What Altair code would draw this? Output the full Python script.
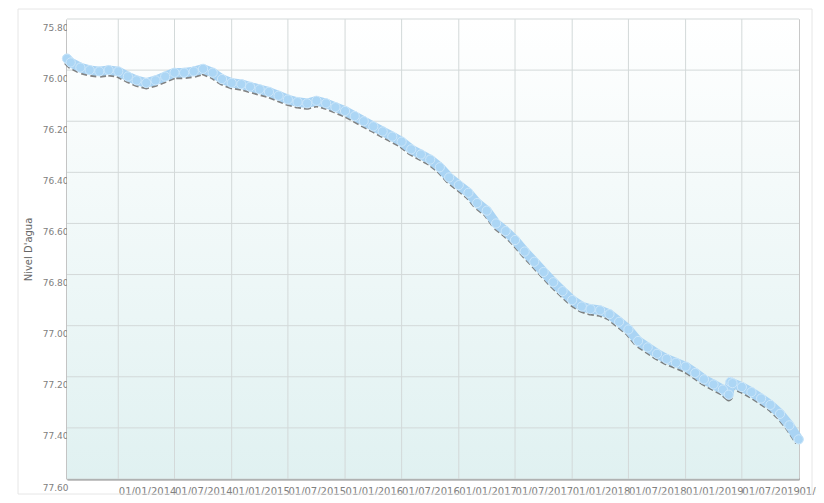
import altair as alt
import pandas as pd

# ---- data ----
dates = [
    "2013-07-20", "2013-08-01", "2013-09-01", "2013-10-01", "2013-11-01", "2013-12-01",
    "2014-01-01", "2014-02-01", "2014-03-01", "2014-04-01", "2014-05-01", "2014-06-01",
    "2014-07-01", "2014-08-01", "2014-09-01", "2014-10-01", "2014-11-01", "2014-12-01",
    "2015-01-01", "2015-02-01", "2015-03-01", "2015-04-01", "2015-05-01", "2015-06-01",
    "2015-07-01", "2015-08-01", "2015-09-01", "2015-10-01", "2015-11-01", "2015-12-01",
    "2016-01-01", "2016-02-01", "2016-03-01", "2016-04-01", "2016-05-01", "2016-06-01",
    "2016-07-01", "2016-08-01", "2016-09-01", "2016-10-01", "2016-11-01", "2016-12-01",
    "2017-01-01", "2017-02-01", "2017-03-01", "2017-04-01", "2017-05-01", "2017-06-01",
    "2017-07-01", "2017-08-01", "2017-09-01", "2017-10-01", "2017-11-01", "2017-12-01",
    "2018-01-01", "2018-02-01", "2018-03-01", "2018-04-01", "2018-05-01", "2018-06-01",
    "2018-07-01", "2018-08-01", "2018-09-01", "2018-10-01", "2018-11-01", "2018-12-01",
    "2019-01-01", "2019-02-01", "2019-03-01", "2019-04-01", "2019-05-01", "2019-05-20",
    "2019-05-25", "2019-06-01", "2019-07-01", "2019-08-01", "2019-09-01", "2019-10-01",
    "2019-11-01", "2019-12-01", "2019-12-31",
]
levels = [
    75.955, 75.97, 75.99, 76.00, 76.005, 76.00,
    76.005, 76.025, 76.04, 76.05, 76.04, 76.025,
    76.01, 76.01, 76.005, 75.995, 76.01, 76.035,
    76.05, 76.055, 76.065, 76.075, 76.085, 76.10,
    76.115, 76.125, 76.13, 76.12, 76.13, 76.145,
    76.16, 76.18, 76.20, 76.22, 76.24, 76.26,
    76.28, 76.31, 76.33, 76.35, 76.38, 76.42,
    76.45, 76.48, 76.52, 76.55, 76.60, 76.63,
    76.665, 76.71, 76.75, 76.79, 76.83, 76.865,
    76.90, 76.925, 76.935, 76.94, 76.955, 76.985,
    77.015, 77.06, 77.085, 77.11, 77.13, 77.145,
    77.16, 77.185, 77.21, 77.23, 77.25, 77.27,
    77.22, 77.225, 77.24, 77.26, 77.285, 77.31,
    77.345, 77.39, 77.445,
]

x_ticks = [
    "2014-01-01", "2014-07-01", "2015-01-01", "2015-07-01", "2016-01-01", "2016-07-01",
    "2017-01-01", "2017-07-01", "2018-01-01", "2018-07-01", "2019-01-01", "2019-07-01",
    "2020-01-01",
]
y_ticks = [75.8, 76.0, 76.2, 76.4, 76.6, 76.8, 77.0, 77.2, 77.4, 77.6]
y_title = "Nivel D'agua"

W, H = 732, 460

df = pd.DataFrame({"date": dates, "level": levels})
xgrid = pd.DataFrame({"date": x_ticks[:-1]})
ygrid = pd.DataFrame({"level": y_ticks})


def dt(s):
    y, m, d = (int(p) for p in s.split("-"))
    return alt.DateTime(year=y, month=m, date=d, utc=True)


xscale = alt.Scale(domain=[dt("2013-07-20"), dt("2020-01-01")], nice=False)
yscale = alt.Scale(domain=[75.8, 77.6], reverse=True, nice=False, zero=False)

x_axis = alt.Axis(
    values=[dt(s) for s in x_ticks], format="%d/%m/%Y", grid=False,
    labelAlign="left", labelBaseline="top", labelPadding=7,
    labelFontSize=10, labelColor="#808080", labelFont="DejaVu Sans",
    labelOverlap=False, labelBound=False, labelFlush=False,
    ticks=False, tickSize=0, domainColor="#8a8a8a", domainWidth=2,
)
y_axis = alt.Axis(
    values=y_ticks, format=".2f", grid=False,
    labelFontSize=9, labelColor="#808080", labelFont="DejaVu Sans",
    labelBaseline="middle", labelOffset=8, labelPadding=-1,
    ticks=False, tickSize=0, domainColor="#8a8a8a", domainWidth=2,
    titleFont="DejaVu Sans", titleFontSize=10, titleFontWeight="normal",
    titleColor="#666666", titlePadding=9,
)


def X():
    return alt.X("date:T", scale=xscale, title=None, axis=x_axis)


def Y():
    return alt.Y("level:Q", scale=yscale, title=y_title, axis=y_axis)


bg = alt.Chart(alt.Data(values=[{}])).mark_rect(
    fill=alt.Gradient(
        gradient="linear",
        stops=[alt.GradientStop(color="#ffffff", offset=0),
               alt.GradientStop(color="#e0f1f1", offset=1)],
        x1=0, x2=0, y1=0, y2=1,
    )
).encode(x=alt.value(0), x2=alt.value(W), y=alt.value(0), y2=alt.value(H))

frame = alt.Chart(alt.Data(values=[{}])).mark_rect(
    fill=None, stroke="#e6e6e6", strokeWidth=1
).encode(x=alt.value(-49), x2=alt.value(745), y=alt.value(-10), y2=alt.value(475))

vgrid = alt.Chart(xgrid).mark_rule(color="#d3d9d9", strokeWidth=1).encode(x=X())
hgrid = alt.Chart(ygrid).mark_rule(color="#d3d9d9", strokeWidth=1).encode(y=Y())

base = alt.Chart(df)
shadow = base.mark_line(color="#5a5a5a", strokeWidth=8, yOffset=2.5, opacity=0.75,
                        strokeDash=[6, 3], strokeJoin="round").encode(x=X(), y=Y())
band = base.mark_line(color="#aad4f4", strokeWidth=9.5, strokeCap="round",
                      strokeJoin="round").encode(x=X(), y=Y())
pts = base.mark_circle(size=85, color="#acd6f5", opacity=1, stroke="#cde7fa",
                       strokeWidth=1).encode(x=X(), y=Y())

chart = alt.layer(bg, frame, vgrid, hgrid, shadow, band, pts).properties(
    width=W, height=H,
    autosize=alt.AutoSizeParams(type="none"),
    padding={"left": 59, "top": 11, "right": 17, "bottom": 16},
).configure_view(stroke="#c8c8c8", strokeWidth=1)

chart.save("out.html", embed_options={"renderer": "svg", "actions": False})
